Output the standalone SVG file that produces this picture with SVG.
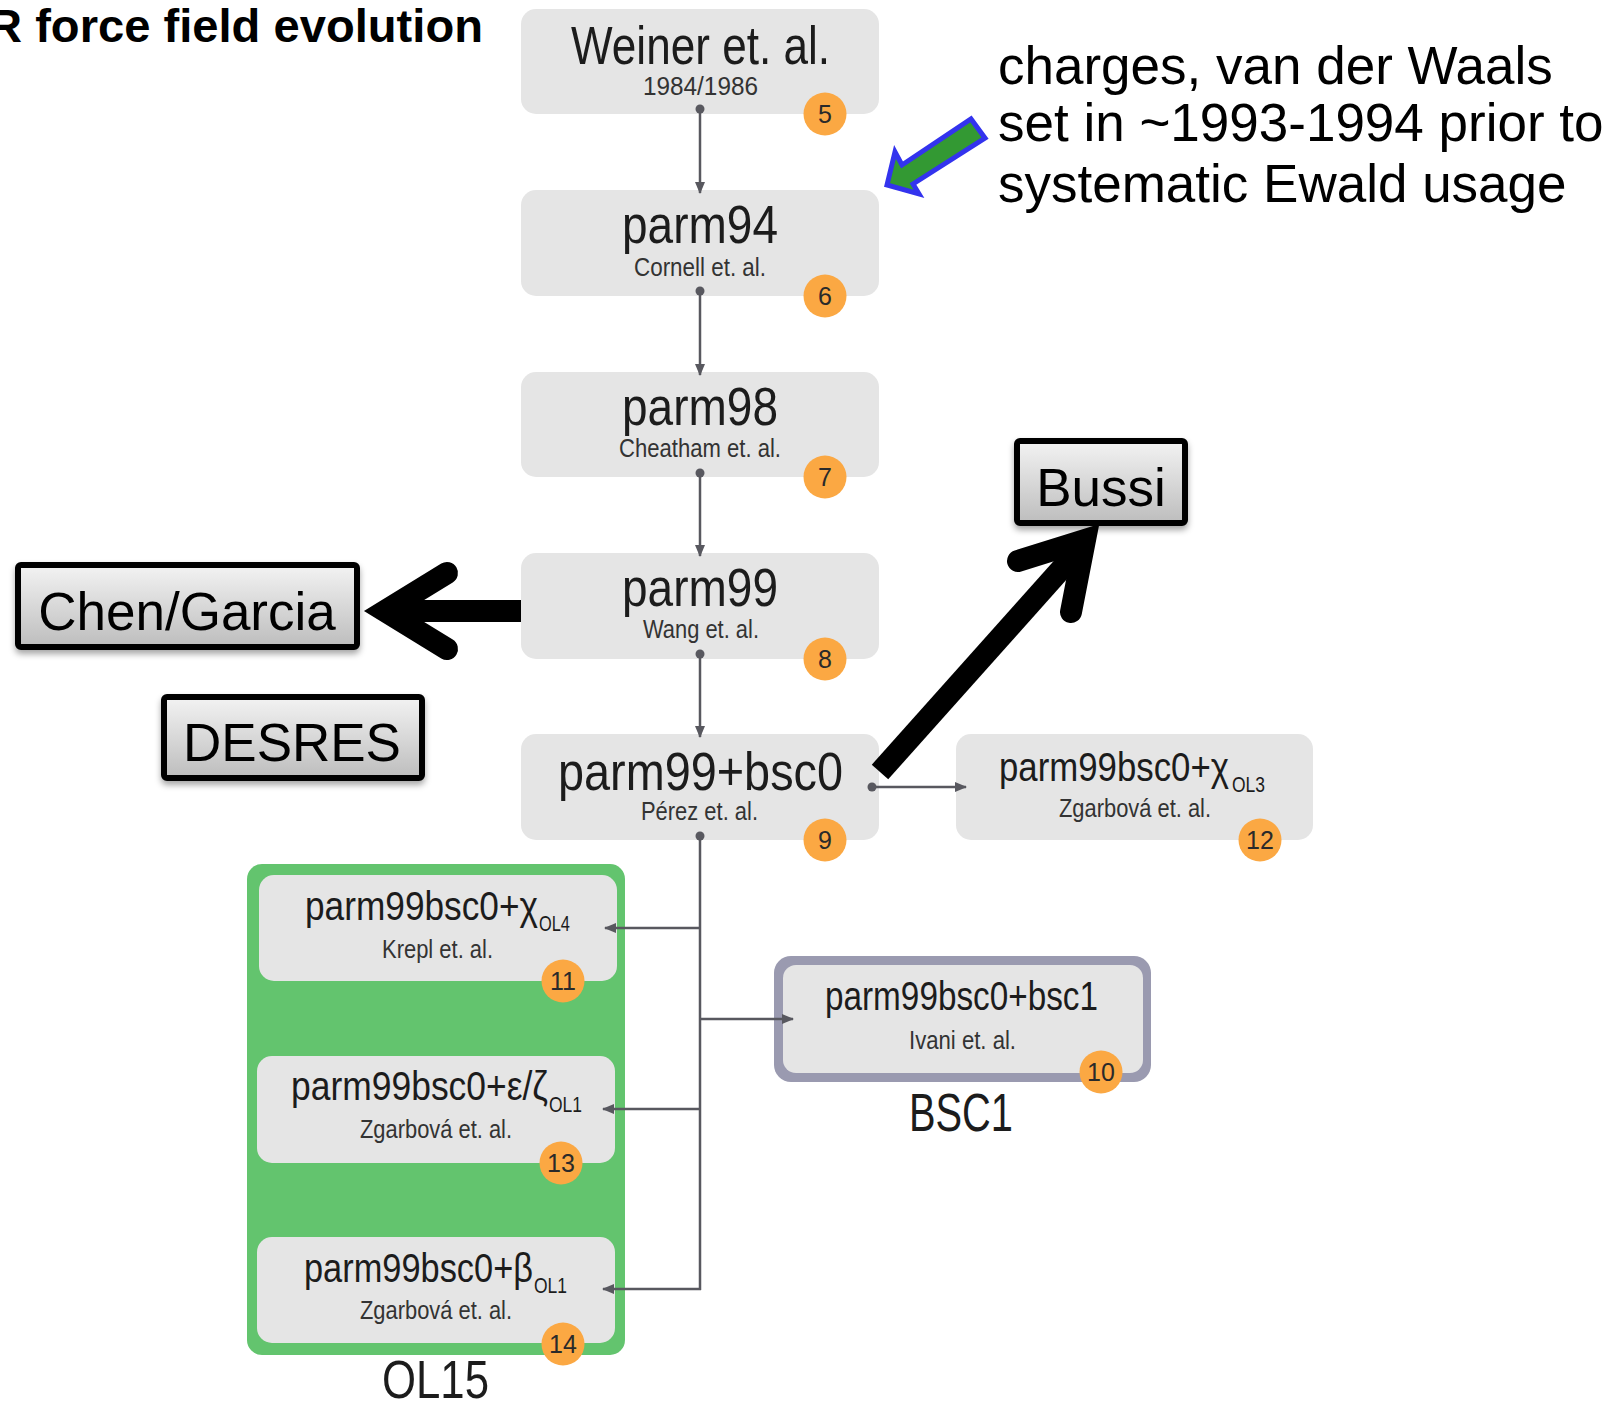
<svg xmlns="http://www.w3.org/2000/svg" width="1612" height="1404" viewBox="0 0 1612 1404">
<style>
text{font-family:"Liberation Sans",Arial,sans-serif}
.box{fill:#e5e5e5}
.t1{font-size:54px;fill:#1c1c1c}
.t2{font-size:25px;fill:#333}
.t3{font-size:40px;fill:#1c1c1c}
.sub{font-size:22px;fill:#1c1c1c}
.badge{fill:#fba843}
.bn{font-size:25px;fill:#2a2a2a;text-anchor:middle}
.lbl{font-size:53px;fill:#000;text-anchor:middle}
.conn{stroke:#58585f;stroke-width:2.5;fill:none}
.dot{fill:#58585f}
.bk{fill:url(#gr);stroke:#000;stroke-width:6}
.big{stroke:#000;stroke-width:22;fill:none;stroke-linejoin:miter}
</style>
<defs>
<marker id="ah" markerUnits="userSpaceOnUse" markerWidth="12" markerHeight="10" refX="11" refY="5" orient="auto">
<path d="M0,0 L12,5 L0,10 z" fill="#58585f"/>
</marker>
<linearGradient id="gr" x1="0" y1="0" x2="0" y2="1">
<stop offset="0" stop-color="#f3f3f3"/>
<stop offset="1" stop-color="#bdbdbd"/>
</linearGradient>
<filter id="sh" x="-10%" y="-10%" width="120%" height="130%">
<feDropShadow dx="0" dy="4" stdDeviation="3" flood-color="#000" flood-opacity="0.35"/>
</filter>
</defs>
<rect width="1612" height="1404" fill="#fff"/>

<text x="-12" y="42" font-size="46" font-weight="bold" textLength="495" lengthAdjust="spacingAndGlyphs" fill="#000">R force field evolution</text>

<g id="groups">
<rect id="ol15-group" x="247" y="864" width="378" height="491" rx="15" fill="#63c46e"/>
<text x="382" y="1398" font-size="53" textLength="107" lengthAdjust="spacingAndGlyphs" fill="#1c1c1c">OL15</text>
<rect id="bsc1-group" x="774" y="956" width="377" height="126" rx="17" fill="#9a9ab0"/>
<text x="909" y="1131" font-size="54" textLength="104" lengthAdjust="spacingAndGlyphs" fill="#1c1c1c">BSC1</text>
</g>

<g id="n5">
<rect class="box" x="521" y="9" width="358" height="105" rx="15"/>
<text class="t1" x="571" y="64" textLength="259" lengthAdjust="spacingAndGlyphs">Weiner et. al.</text>
<text class="t2" x="643" y="95" textLength="115" lengthAdjust="spacingAndGlyphs">1984/1986</text>
<circle class="badge" cx="825" cy="114" r="21.5"/><text class="bn" x="825" y="123">5</text>
</g>
<g id="n6">
<rect class="box" x="521" y="190" width="358" height="106" rx="15"/>
<text class="t1" x="622" y="243" textLength="156" lengthAdjust="spacingAndGlyphs">parm94</text>
<text class="t2" x="634" y="276" textLength="132" lengthAdjust="spacingAndGlyphs">Cornell et. al.</text>
<circle class="badge" cx="825" cy="296" r="21.5"/><text class="bn" x="825" y="305">6</text>
</g>
<g id="n7">
<rect class="box" x="521" y="372" width="358" height="105" rx="15"/>
<text class="t1" x="622" y="425" textLength="156" lengthAdjust="spacingAndGlyphs">parm98</text>
<text class="t2" x="619" y="457" textLength="162" lengthAdjust="spacingAndGlyphs">Cheatham et. al.</text>
<circle class="badge" cx="825" cy="477" r="21.5"/><text class="bn" x="825" y="486">7</text>
</g>
<g id="n8">
<rect class="box" x="521" y="553" width="358" height="106" rx="15"/>
<text class="t1" x="622" y="606" textLength="156" lengthAdjust="spacingAndGlyphs">parm99</text>
<text class="t2" x="643" y="638" textLength="116" lengthAdjust="spacingAndGlyphs">Wang et. al.</text>
<circle class="badge" cx="825" cy="659" r="21.5"/><text class="bn" x="825" y="668">8</text>
</g>
<g id="n9">
<rect class="box" x="521" y="734" width="358" height="106" rx="15"/>
<text class="t1" x="558" y="790" textLength="285" lengthAdjust="spacingAndGlyphs">parm99+bsc0</text>
<text class="t2" x="641" y="820" textLength="117" lengthAdjust="spacingAndGlyphs">Pérez et. al.</text>
<circle class="badge" cx="825" cy="840" r="21.5"/><text class="bn" x="825" y="849">9</text>
</g>
<g id="n12">
<rect class="box" x="956" y="734" width="357" height="106" rx="15"/>
<text class="t3" x="999" y="781" textLength="230" lengthAdjust="spacingAndGlyphs">parm99bsc0+χ</text>
<text class="sub" x="1232" y="792" textLength="33" lengthAdjust="spacingAndGlyphs">OL3</text>
<text class="t2" x="1059" y="817" textLength="152" lengthAdjust="spacingAndGlyphs">Zgarbová et. al.</text>
<circle class="badge" cx="1260" cy="840" r="21.5"/><text class="bn" x="1260" y="849">12</text>
</g>
<g id="n11">
<rect class="box" x="259" y="875" width="358" height="106" rx="15"/>
<text class="t3" x="305" y="920" textLength="233" lengthAdjust="spacingAndGlyphs">parm99bsc0+χ</text>
<text class="sub" x="539" y="931" textLength="31" lengthAdjust="spacingAndGlyphs">OL4</text>
<text class="t2" x="382" y="958" textLength="111" lengthAdjust="spacingAndGlyphs">Krepl et. al.</text>
<circle class="badge" cx="563" cy="981" r="21.5"/><text class="bn" x="563" y="990">11</text>
</g>
<g id="n13">
<rect class="box" x="257" y="1056" width="358" height="107" rx="15"/>
<text class="t3" x="291" y="1100" textLength="257" lengthAdjust="spacingAndGlyphs">parm99bsc0+ε/ζ</text>
<text class="sub" x="549" y="1112" textLength="33" lengthAdjust="spacingAndGlyphs">OL1</text>
<text class="t2" x="360" y="1138" textLength="152" lengthAdjust="spacingAndGlyphs">Zgarbová et. al.</text>
<circle class="badge" cx="561" cy="1163" r="21.5"/><text class="bn" x="561" y="1172">13</text>
</g>
<g id="n14">
<rect class="box" x="257" y="1237" width="358" height="106" rx="15"/>
<text class="t3" x="304" y="1282" textLength="229" lengthAdjust="spacingAndGlyphs">parm99bsc0+β</text>
<text class="sub" x="534" y="1293" textLength="33" lengthAdjust="spacingAndGlyphs">OL1</text>
<text class="t2" x="360" y="1319" textLength="152" lengthAdjust="spacingAndGlyphs">Zgarbová et. al.</text>
<circle class="badge" cx="563" cy="1344" r="21.5"/><text class="bn" x="563" y="1353">14</text>
</g>
<g id="n10">
<rect class="box" x="783" y="965" width="360" height="108" rx="13"/>
<text class="t3" x="825" y="1010" textLength="273" lengthAdjust="spacingAndGlyphs">parm99bsc0+bsc1</text>
<text class="t2" x="909" y="1049" textLength="107" lengthAdjust="spacingAndGlyphs">Ivani et. al.</text>
<circle class="badge" cx="1101" cy="1072" r="21.5"/><text class="bn" x="1101" y="1081">10</text>
</g>

<g id="connectors">
<line class="conn" x1="700" y1="109" x2="700" y2="193" marker-end="url(#ah)"/>
<line class="conn" x1="700" y1="291" x2="700" y2="375" marker-end="url(#ah)"/>
<line class="conn" x1="700" y1="473" x2="700" y2="556" marker-end="url(#ah)"/>
<line class="conn" x1="700" y1="654" x2="700" y2="737" marker-end="url(#ah)"/>
<line class="conn" x1="700" y1="836" x2="700" y2="1290"/>
<line class="conn" x1="700" y1="928" x2="605" y2="928" marker-end="url(#ah)"/>
<line class="conn" x1="700" y1="1019" x2="793" y2="1019" marker-end="url(#ah)"/>
<line class="conn" x1="700" y1="1109" x2="603" y2="1109" marker-end="url(#ah)"/>
<line class="conn" x1="701" y1="1289" x2="603" y2="1289" marker-end="url(#ah)"/>
<line class="conn" x1="872" y1="787" x2="966" y2="787" marker-end="url(#ah)"/>
<circle class="dot" cx="700" cy="109" r="4.5"/>
<circle class="dot" cx="700" cy="291" r="4.5"/>
<circle class="dot" cx="700" cy="473" r="4.5"/>
<circle class="dot" cx="700" cy="654" r="4.5"/>
<circle class="dot" cx="700" cy="836" r="4.5"/>
<circle class="dot" cx="872" cy="787" r="4.5"/>
</g>

<g id="chen-garcia">
<rect class="bk" x="18" y="565" width="339" height="82" rx="3" filter="url(#sh)"/>
<text class="lbl" x="187" y="630">Chen/Garcia</text>
</g>
<g id="desres">
<rect class="bk" x="164" y="697" width="258" height="81" rx="3" filter="url(#sh)"/>
<text class="lbl" x="292" y="761">DESRES</text>
</g>
<g id="bussi">
<rect class="bk" x="1017" y="441" width="168" height="82" rx="3" filter="url(#sh)"/>
<text class="lbl" x="1101" y="506">Bussi</text>
</g>

<g id="annotation-arrows">
<line class="big" x1="521" y1="611" x2="392" y2="611"/>
<path class="big" d="M447,573 L385,611 L447,649" stroke-linecap="round"/>
<line class="big" x1="880" y1="772" x2="1080" y2="548"/>
<path class="big" d="M1018,561 L1085,540 L1071,612" stroke-linecap="round"/>
<polygon points="887,185 895,152 902,165 971,119 985,138 913,184 919,194" fill="#339933" stroke="#3333ee" stroke-width="5" stroke-linejoin="miter"/>
</g>

<g id="note">
<text x="998" y="84" font-size="53" fill="#000">charges, van der Waals</text>
<text x="998" y="141" font-size="53" fill="#000">set in ~1993-1994 prior to</text>
<text x="998" y="202" font-size="53" fill="#000">systematic Ewald usage</text>
</g>
</svg>
